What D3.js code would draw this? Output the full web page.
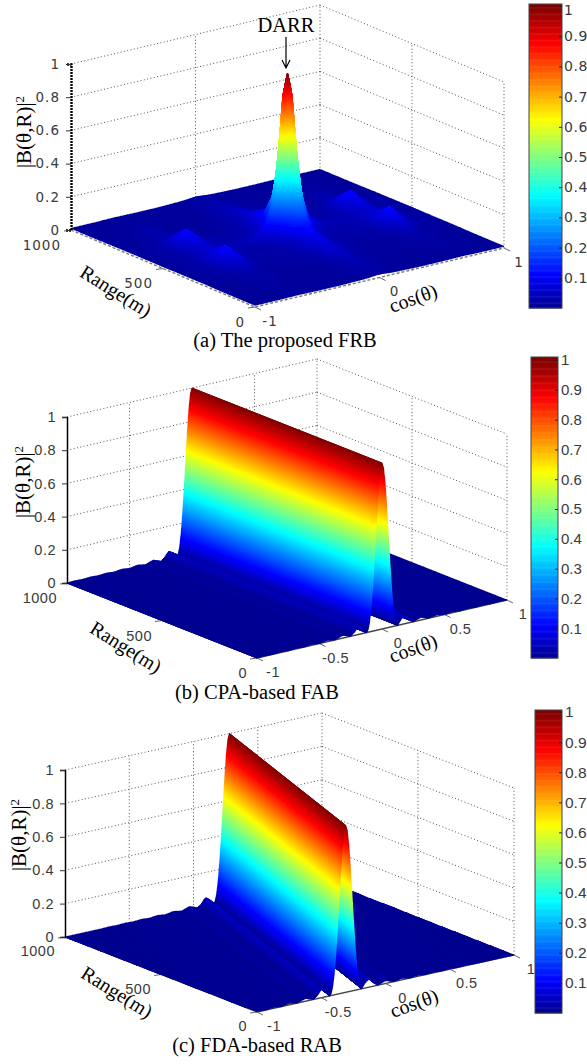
<!DOCTYPE html>
<html>
<head>
<meta charset="utf-8">
<script src="https://cdn.jsdelivr.net/npm/d3@7"></script>
<style>
  body { margin: 0; background: #fff; }
  svg { display: block; }
  .serif { font-family: "Liberation Serif", serif; fill: #000; }
  .tick-text, .tick text { fill: #3a3a3a; }
</style>
</head>
<body>
<script>
// values
var zTicks = [0, 0.2, 0.4, 0.6, 0.8, 1];
var colorTicks = [0.1, 0.2, 0.3, 0.4, 0.5, 0.6, 0.7, 0.8, 0.9, 1];
var rangeTicks = [0, 500, 1000];
var cosTicksCoarse = [-1, 0, 1];
var cosTicksFine = [-1, -0.5, 0, 0.5, 1];

var jetStops = [0, 0.11, 0.375, 0.625, 0.875, 1];
var jetColors = ["#00008f", "#0000ff", "#00ffff", "#ffff00", "#ff0000", "#800000"];

// (a) surface nodes, rows = range, columns = cos
var frbCos = [-1, -0.8, -0.65, -0.5, -0.3, -0.2, -0.14, -0.09, -0.05, -0.02, 0, 0.02, 0.05, 0.09, 0.14, 0.2, 0.3, 0.5, 0.67, 0.8, 1];
var frbRange = [0, 150, 280, 400, 445, 470, 488, 500, 512, 530, 555, 610, 700, 850, 1000];
var frbLevels = [
  [.01, .01, .012, .01, .01, .012, .013, .015, .018, .02, .02, .02, .018, .015, .013, .012, .01, .01, .012, .01, .01],
  [.01, .012, .02, .012, .012, .015, .018, .025, .03, .035, .04, .035, .03, .025, .018, .015, .012, .012, .02, .012, .01],
  [.012, .015, .035, .016, .015, .02, .028, .04, .055, .065, .07, .065, .055, .04, .028, .02, .015, .016, .035, .015, .012],
  [.012, .03, .125, .03, .02, .028, .04, .06, .095, .12, .13, .12, .095, .06, .04, .028, .02, .03, .125, .03, .012],
  [.012, .025, .08, .03, .025, .04, .06, .11, .2, .27, .28, .27, .2, .11, .06, .04, .025, .03, .08, .025, .012],
  [.012, .025, .075, .032, .03, .05, .09, .18, .37, .56, .6, .56, .37, .18, .09, .05, .03, .032, .075, .025, .012],
  [.012, .025, .07, .034, .04, .07, .14, .27, .56, .86, .93, .86, .56, .27, .14, .07, .04, .034, .07, .025, .012],
  [.012, .025, .07, .036, .045, .08, .15, .28, .6, .93, 1, .93, .6, .28, .15, .08, .045, .036, .07, .025, .012],
  [.012, .025, .07, .034, .04, .07, .14, .27, .56, .86, .93, .86, .56, .27, .14, .07, .04, .034, .07, .025, .012],
  [.012, .025, .075, .032, .03, .05, .09, .18, .37, .56, .6, .56, .37, .18, .09, .05, .03, .032, .075, .025, .012],
  [.012, .025, .08, .03, .025, .04, .06, .11, .2, .27, .28, .27, .2, .11, .06, .04, .025, .03, .08, .025, .012],
  [.012, .03, .125, .03, .02, .028, .04, .06, .095, .12, .13, .12, .095, .06, .04, .028, .02, .03, .125, .03, .012],
  [.012, .015, .035, .016, .015, .02, .028, .04, .055, .065, .07, .065, .055, .04, .028, .02, .015, .016, .035, .015, .012],
  [.01, .012, .02, .012, .012, .015, .018, .025, .03, .035, .04, .035, .03, .025, .018, .015, .012, .012, .02, .012, .01],
  [.01, .01, .012, .01, .01, .012, .013, .015, .018, .02, .02, .02, .018, .015, .013, .012, .01, .01, .012, .01, .01]
];

// (b) and (c) ridge cross section, offset from the ridge centre
var ridgeOffset = [-1, -0.9375, -0.875, -0.8125, -0.75, -0.6875, -0.625, -0.5625, -0.5, -0.4375, -0.375, -0.3125, -0.25, -0.219, -0.1875, -0.156, -0.125, -0.1125, -0.1, -0.0875, -0.075, -0.0625, -0.05, -0.0375, -0.025, -0.0125, 0, 0.0125, 0.025, 0.0375, 0.05, 0.0625, 0.075, 0.0875, 0.1, 0.1125, 0.125, 0.156, 0.1875, 0.219, 0.25, 0.3125, 0.375, 0.4375, 0.5, 0.5625, 0.625, 0.6875, 0.75, 0.8125, 0.875, 0.9375, 1];
var ridgeLevel = [0, .002, 0, .003, 0, .004, 0, .006, 0, .009, 0, .017, 0, .018, .05, .034, 0, .012, .055, .135, .255, .405, .573, .737, .875, .968, 1, .968, .875, .737, .573, .405, .255, .135, .055, .012, 0, .034, .05, .018, 0, .017, 0, .009, 0, .006, 0, .004, 0, .003, 0, .002, 0];
var cpaCentre = [0, 0];   // cos of the ridge at range 1000 and at range 0
var fdaCentre = [0.28, -0.31];

var panels = [
  {
    left: [71, 230], front: [255, 307], right: [504, 248], height: 166, cosTicks: cosTicksCoarse,
    axisWidth: 2.4, axisDash: "2,1", edge: ["#777", 1.4, "3,2"],
    tickFamily: "DejaVu Sans", tickFont: 13.5, tickSpacing: 1, barFont: 14, barSpacing: 0.6, barPad: 2,
    cosLabel: [15, 14], rangeLabel: [-10, 15],
    bar: { x: 529, w: 33, top: 4, y1: 6, y0: 308 },
    yLabel: [24, 132], rangeTitle: [116, 291, 32], cosTitle: [413, 298, -20],
    caption: ["(a) The proposed FRB", 285, 347]
  },
  {
    left: [67, 583], front: [257, 658], right: [507, 600], height: 166, cosTicks: cosTicksFine,
    axisWidth: 1.5, axisDash: null, edge: ["#444", 1.3, null],
    tickFamily: "Liberation Sans", tickFont: 14.5, tickSpacing: 0.5, barFont: 15, barSpacing: 0, barPad: 3,
    cosLabel: [16, 14], rangeLabel: [-10, 15],
    bar: { x: 531, w: 27, top: 357, y1: 360, y0: 658 },
    yLabel: [23, 482], rangeTitle: [126, 647, 32], cosTitle: [413, 648, -20],
    caption: ["(b) CPA-based FAB", 257, 699],
    centre: cpaCentre
  },
  {
    left: [65, 937], front: [257, 1012], right: [514, 955], height: 167, cosTicks: cosTicksFine,
    axisWidth: 1.5, axisDash: null, edge: ["#444", 1.3, null],
    tickFamily: "Liberation Sans", tickFont: 14.5, tickSpacing: 0.5, barFont: 15.5, barSpacing: 0, barPad: 3,
    cosLabel: [17, 14], rangeLabel: [-10, 14],
    bar: { x: 535, w: 27, top: 710, y1: 712, y0: 1013 },
    yLabel: [19, 835], rangeTitle: [117, 992, 32], cosTitle: [414, 1003, -20],
    caption: ["(c) FDA-based RAB", 257, 1052],
    centre: fdaCentre
  }
];

var svg = d3.select("body").append("svg")
  .attr("width", 587)
  .attr("height", 1064);

// the source is a soft raster, a slight blur also hides the cell seams
svg.append("defs").append("filter")
  .attr("id", "soft")
  .attr("filterUnits", "userSpaceOnUse")
  .attr("x", 0)
  .attr("y", 0)
  .attr("width", 587)
  .attr("height", 1064)
  .append("feGaussianBlur")
  .attr("stdDeviation", 0.5);

var jet = d3.scaleLinear().domain(jetStops).range(jetColors).clamp(true);
var cosScale = d3.scaleLinear().domain([-1, 1]).range([0, 1]);
var rangeScale = d3.scaleLinear().domain([0, 1000]).range([0, 1]);
var ridgeScale = d3.scaleLinear().domain(ridgeOffset).range(ridgeLevel).clamp(true);

panels.forEach(function(p) {
  var zScale = d3.scaleLinear().domain([0, 1]).range([p.left[1], p.left[1] - p.height]);
  var g = svg.append("g");

  function project(cos, range, z) {
    var u = cosScale(cos);
    var v = rangeScale(range);
    return [
      p.front[0] + u * (p.right[0] - p.front[0]) + v * (p.left[0] - p.front[0]),
      p.front[1] + u * (p.right[1] - p.front[1]) + v * (p.left[1] - p.front[1]) - (p.left[1] - zScale(z))
    ];
  }

  function tickStyle(sel, family, size, spacing) {
    sel.style("font-family", '"' + family + '", sans-serif')
      .style("font-size", size + "px")
      .style("letter-spacing", spacing + "px");
  }

  // dotted walls
  var walls = [];
  zTicks.slice(1).forEach(function(z) {
    walls.push([project(-1, 1000, z), project(1, 1000, z)]);
    walls.push([project(1, 1000, z), project(1, 0, z)]);
  });
  p.cosTicks.filter(function(c) { return c > -1; }).forEach(function(c) {
    walls.push([project(c, 1000, 0), project(c, 1000, 1)]);
  });
  [500, 0].forEach(function(r) {
    walls.push([project(1, r, 0), project(1, r, 1)]);
  });
  g.append("g").selectAll("line")
    .data(walls)
    .join("line")
    .attr("x1", function(d) { return d[0][0]; })
    .attr("y1", function(d) { return d[0][1]; })
    .attr("x2", function(d) { return d[1][0]; })
    .attr("y2", function(d) { return d[1][1]; })
    .attr("stroke", "#555")
    .attr("stroke-width", 1)
    .attr("stroke-dasharray", "1,2.4");

  // floor edges and their ticks
  g.append("path")
    .attr("d", d3.line()([project(-1, 1000, 0), project(-1, 0, 0), project(1, 0, 0)]))
    .attr("fill", "none")
    .attr("stroke", p.edge[0])
    .attr("stroke-width", p.edge[1])
    .attr("stroke-dasharray", p.edge[2]);
  var edges = [];
  rangeTicks.forEach(function(r) {
    var a = project(-1, r, 0);
    edges.push([a, [a[0] - 7, a[1] + 1]]);
  });
  p.cosTicks.forEach(function(c) {
    var a = project(c, 0, 0);
    edges.push([a, [a[0] + 6, a[1] + 3]]);
  });
  g.append("g").selectAll("line")
    .data(edges)
    .join("line")
    .attr("x1", function(d) { return d[0][0]; })
    .attr("y1", function(d) { return d[0][1]; })
    .attr("x2", function(d) { return d[1][0]; })
    .attr("y2", function(d) { return d[1][1]; })
    .attr("stroke", "#666")
    .attr("stroke-width", 1);

  // surface, painted from the back corner to the front one
  var polys = [];
  if (p.centre) {
    var centre = d3.scaleLinear().domain([1000, 0]).range(p.centre);
    var cuts = d3.range(-1.4, -0.13, 0.01).concat(d3.range(-0.13, 0.13, 0.001), d3.range(0.13, 1.41, 0.01));
    var clampCos = function(c) { return Math.max(-1, Math.min(1, c)); };
    for (var i = cuts.length - 2; i >= 0; i--) {
      var rows = Math.abs(cuts[i]) < 0.13 ? 1 : 16;
      for (var j = rows - 1; j >= 0; j--) {
        var r0 = 1000 * j / rows;
        var r1 = 1000 * (j + 1) / rows;
        var corners = [[cuts[i], r0], [cuts[i + 1], r0], [cuts[i + 1], r1], [cuts[i], r1]].map(function(q) {
          var c = clampCos(centre(q[1]) + q[0]);
          return { c: c, r: q[1], z: ridgeScale(c - centre(q[1])) };
        });
        var w1 = corners[1].c - corners[0].c;
        var w2 = corners[2].c - corners[3].c;
        if (w1 <= 0 && w2 <= 0) continue;
        polys.push({
          pts: corners.map(function(q) { return project(q.c, q.r, q.z); }),
          z: d3.mean(corners, function(q) { return q.z; })
        });
      }
    }
  } else {
    for (var jr = frbRange.length - 2; jr >= 0; jr--) {
      for (var ic = frbCos.length - 2; ic >= 0; ic--) {
        var z00 = frbLevels[jr][ic], z10 = frbLevels[jr][ic + 1];
        var z01 = frbLevels[jr + 1][ic], z11 = frbLevels[jr + 1][ic + 1];
        var spread = d3.max([z00, z10, z01, z11]) - d3.min([z00, z10, z01, z11]);
        var k = Math.min(12, Math.ceil(spread * 100) + 2);
        var at = function(a, b) {
          var z = (z00 * (1 - a) + z10 * a) * (1 - b) + (z01 * (1 - a) + z11 * a) * b;
          return {
            c: frbCos[ic] + a * (frbCos[ic + 1] - frbCos[ic]),
            r: frbRange[jr] + b * (frbRange[jr + 1] - frbRange[jr]),
            z: z
          };
        };
        for (var sb = k - 1; sb >= 0; sb--) {
          for (var sa = k - 1; sa >= 0; sa--) {
            var cell = [at(sa / k, sb / k), at((sa + 1) / k, sb / k), at((sa + 1) / k, (sb + 1) / k), at(sa / k, (sb + 1) / k)];
            polys.push({
              pts: cell.map(function(q) { return project(q.c, q.r, q.z); }),
              z: d3.mean(cell, function(q) { return q.z; })
            });
          }
        }
      }
    }
  }
  g.append("g")
    .attr("filter", "url(#soft)")
    .selectAll("polygon")
    .data(polys)
    .join("polygon")
    .attr("points", function(d) { return d.pts.map(function(q) { return q[0].toFixed(2) + "," + q[1].toFixed(2); }).join(" "); })
    .attr("fill", function(d) { return jet(d.z); })
    .attr("stroke", function(d) { return jet(d.z); })
    .attr("stroke-width", 0.8)
    .attr("stroke-linejoin", "round")
    .attr("shape-rendering", "crispEdges");

  // z axis
  var zAxis = d3.axisLeft(zScale).tickValues(zTicks).tickSize(5).tickPadding(6).tickFormat(function(d) { return d; });
  var zGroup = g.append("g")
    .attr("transform", "translate(" + p.left[0] + ",0)")
    .call(zAxis);
  zGroup.select(".domain")
    .attr("stroke", "#000")
    .attr("stroke-width", p.axisWidth)
    .attr("stroke-dasharray", p.axisDash);
  zGroup.selectAll(".tick line").attr("stroke", "#333");
  zGroup.selectAll(".tick text")
    .attr("fill", null)
    .call(tickStyle, p.tickFamily, p.tickFont, p.tickSpacing);

  // oblique tick labels
  p.cosTicks.forEach(function(c) {
    var a = project(c, 0, 0);
    g.append("text")
      .attr("class", "tick-text")
      .attr("x", a[0] + p.cosLabel[0])
      .attr("y", a[1] + p.cosLabel[1])
      .attr("dy", "0.35em")
      .attr("text-anchor", "middle")
      .call(tickStyle, p.tickFamily, p.tickFont, p.tickSpacing)
      .text(c);
  });
  rangeTicks.forEach(function(r) {
    var a = project(-1, r, 0);
    g.append("text")
      .attr("class", "tick-text")
      .attr("x", a[0] + p.rangeLabel[0])
      .attr("y", a[1] + p.rangeLabel[1])
      .attr("dy", "0.35em")
      .attr("text-anchor", "end")
      .call(tickStyle, p.tickFamily, p.tickFont, p.tickSpacing)
      .text(r);
  });

  // axis titles and caption
  var yTitle = g.append("text")
    .attr("class", "serif")
    .attr("transform", "translate(" + p.yLabel[0] + "," + p.yLabel[1] + ") rotate(-90)")
    .attr("dy", "0.35em")
    .attr("text-anchor", "middle")
    .attr("font-size", 21)
    .text("|B(θ,R)|");
  yTitle.append("tspan")
    .attr("font-size", 13)
    .attr("dy", "-0.6em")
    .text("2");

  g.append("text")
    .attr("class", "serif")
    .attr("transform", "translate(" + p.rangeTitle[0] + "," + p.rangeTitle[1] + ") rotate(" + p.rangeTitle[2] + ")")
    .attr("dy", "0.35em")
    .attr("text-anchor", "middle")
    .attr("font-size", 20)
    .text("Range(m)");

  g.append("text")
    .attr("class", "serif")
    .attr("transform", "translate(" + p.cosTitle[0] + "," + p.cosTitle[1] + ") rotate(" + p.cosTitle[2] + ")")
    .attr("dy", "0.35em")
    .attr("text-anchor", "middle")
    .attr("font-size", 20)
    .text("cos(θ)");

  g.append("text")
    .attr("class", "serif")
    .attr("x", p.caption[1])
    .attr("y", p.caption[2])
    .attr("text-anchor", "middle")
    .attr("font-size", 20.5)
    .text(p.caption[0]);

  // colour bar
  var barScale = d3.scaleLinear().domain([0, 1]).range([p.bar.y0, p.bar.y1]);
  var bar = g.append("g");
  bar.append("rect")
    .attr("x", p.bar.x)
    .attr("y", p.bar.top)
    .attr("width", p.bar.w)
    .attr("height", p.bar.y1 - p.bar.top + 1)
    .attr("fill", jet(1));
  bar.selectAll(".level")
    .data(d3.range(0, 1, 1 / 256))
    .join("rect")
    .attr("class", "level")
    .attr("x", p.bar.x)
    .attr("width", p.bar.w)
    .attr("y", function(d) { return barScale(d + 1 / 256); })
    .attr("height", function(d) { return barScale(d) - barScale(d + 1 / 256) + 0.5; })
    .attr("fill", function(d) { return jet(d + 1 / 512); });
  bar.append("rect")
    .attr("x", p.bar.x)
    .attr("y", p.bar.top)
    .attr("width", p.bar.w)
    .attr("height", p.bar.y0 - p.bar.top)
    .attr("fill", "none")
    .attr("stroke", "#444");
  var barAxis = d3.axisRight(barScale).tickValues(colorTicks).tickSize(-3).tickPadding(p.barPad).tickFormat(function(d) { return d; });
  var barGroup = bar.append("g")
    .attr("transform", "translate(" + (p.bar.x + p.bar.w) + ",0)")
    .call(barAxis);
  barGroup.select(".domain").remove();
  barGroup.selectAll(".tick line").attr("stroke", "#222");
  barGroup.selectAll(".tick text")
    .attr("fill", null)
    .call(tickStyle, p.tickFamily, p.barFont, p.barSpacing)
    .attr("dy", function(d) { return d === 1 && p.bar.y1 < 10 ? "0.6em" : "0.32em"; });
});

// DARR annotation
svg.append("text")
  .attr("class", "serif")
  .attr("x", 286)
  .attr("y", 32)
  .attr("text-anchor", "middle")
  .attr("font-size", 20.5)
  .text("DARR");
svg.append("path")
  .attr("d", d3.line()([[286, 37], [286, 68]]) + d3.line()([[282, 60], [286, 68], [290, 60]]))
  .attr("fill", "none")
  .attr("stroke", "#000")
  .attr("stroke-width", 1.2);
</script>
</body>
</html>
